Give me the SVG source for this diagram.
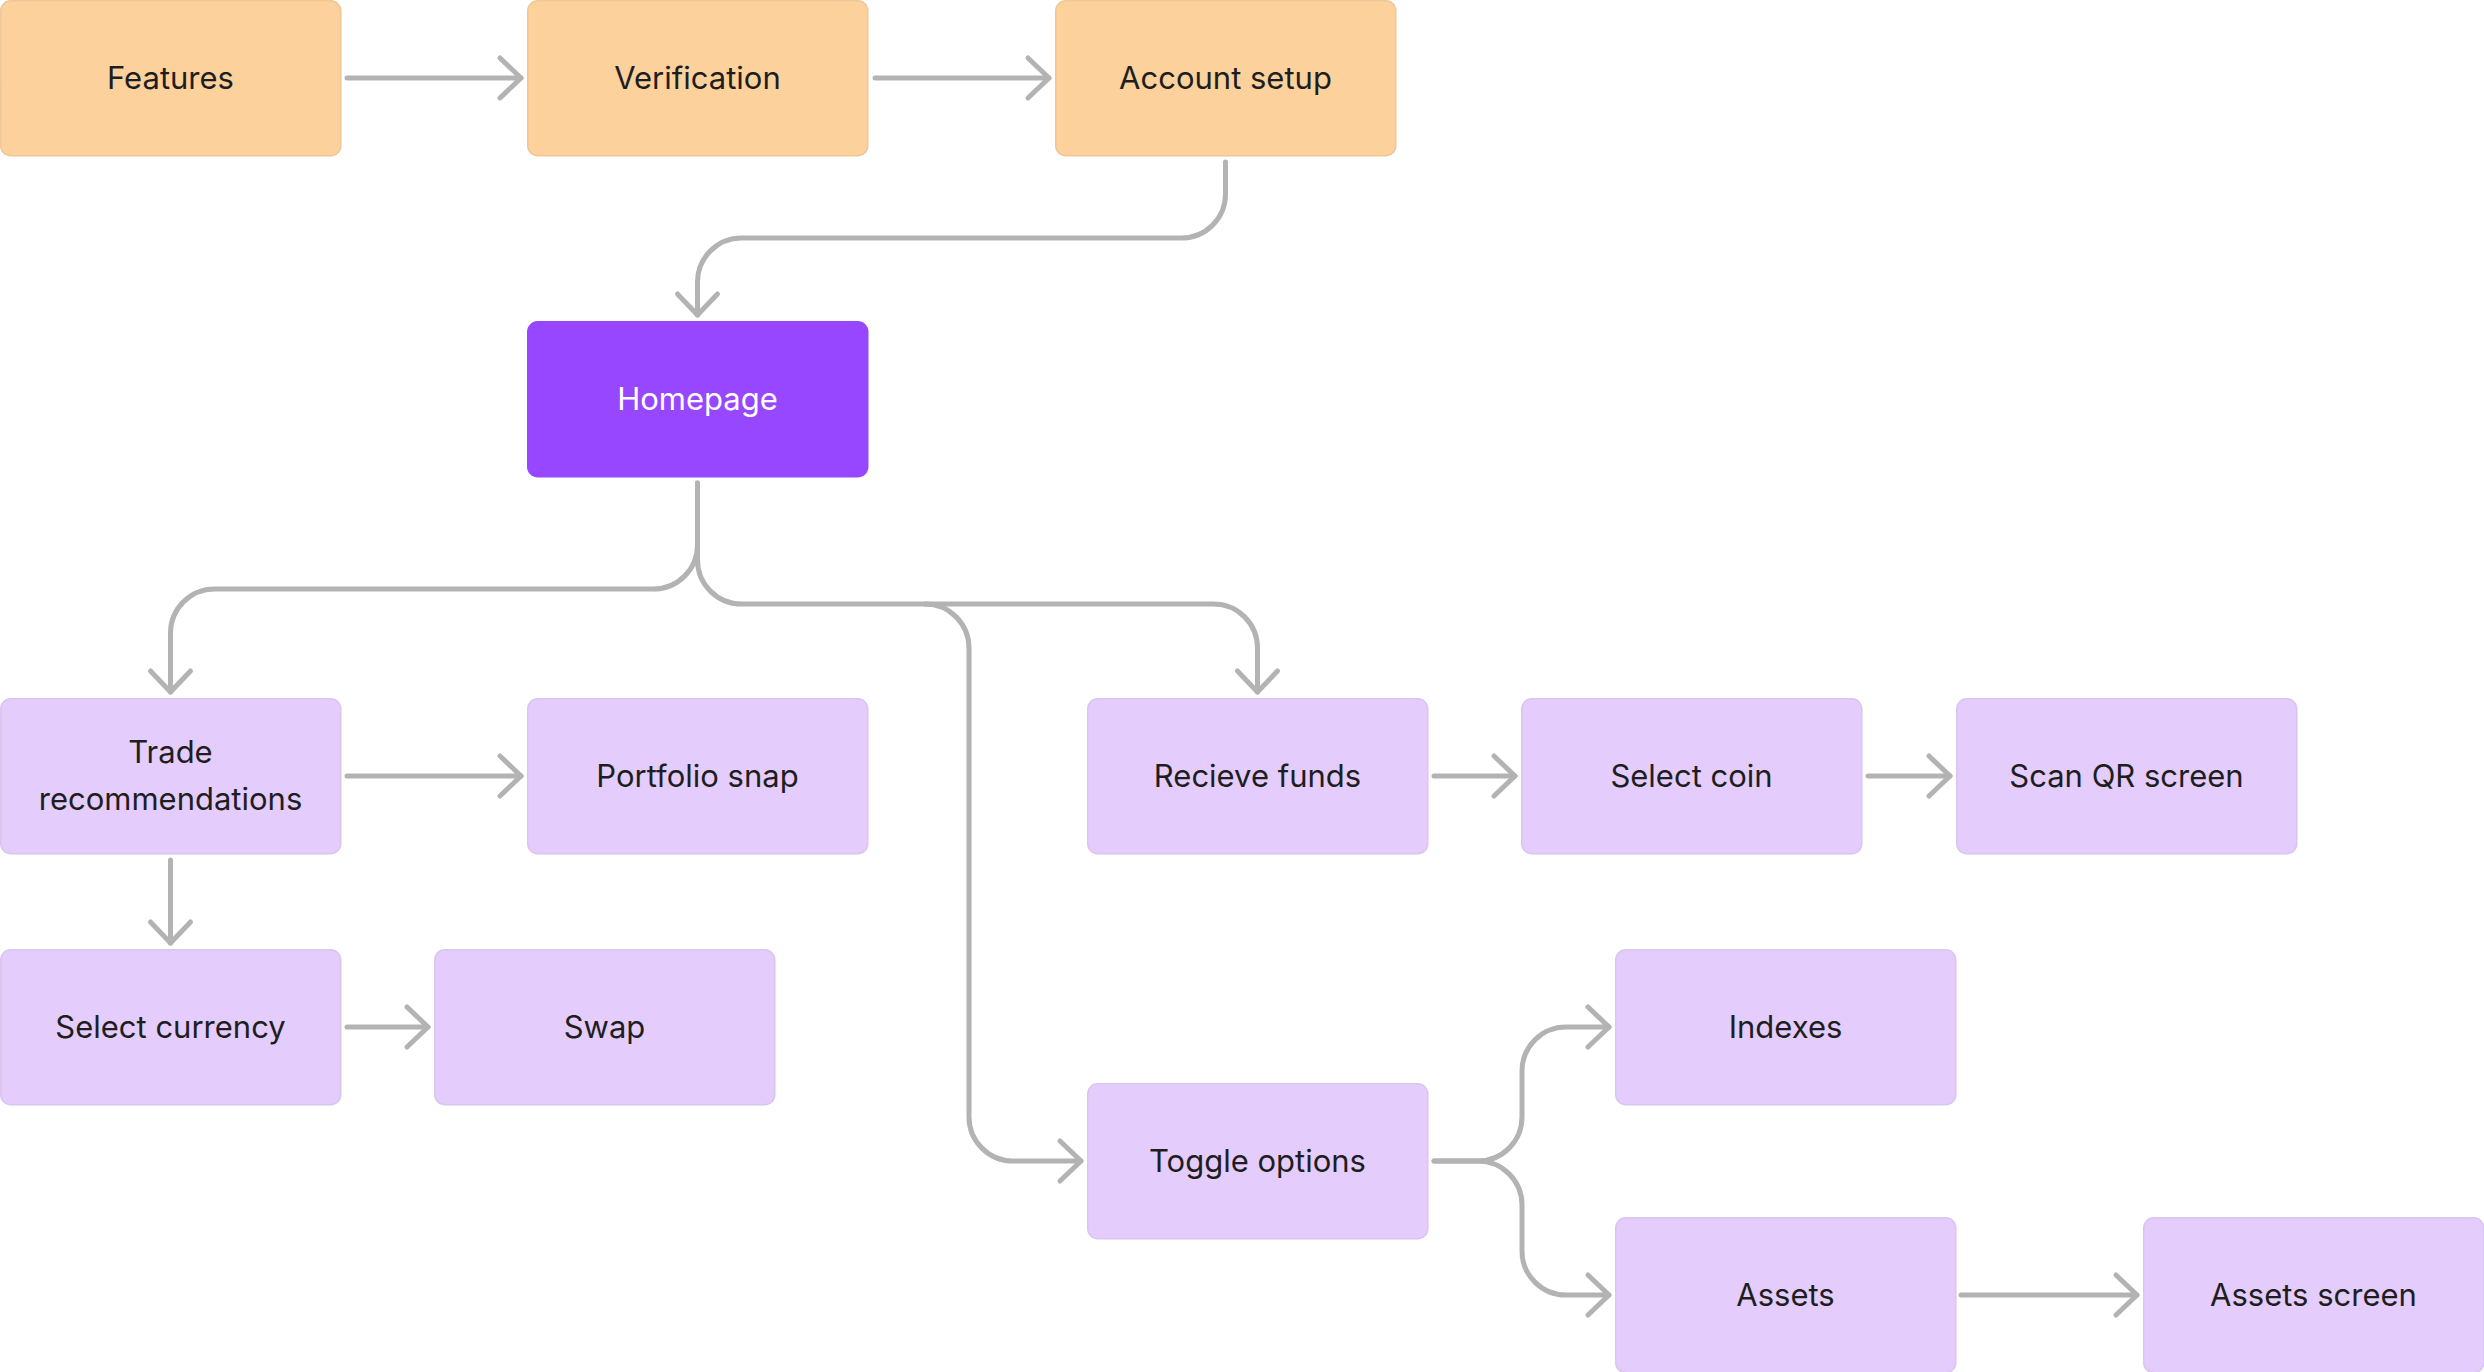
<svg xmlns="http://www.w3.org/2000/svg" width="2484" height="1372" viewBox="0 0 2484 1372">
<defs>
<style>
.o{fill:#FCD19C;stroke:#EDC795;stroke-width:1.5}
.p{fill:#E4CCFD;stroke:#D9C6EE;stroke-width:1.5}
.h{fill:#9747FF;stroke:#9747FF;stroke-width:1.5}
.t{font-family:Inter,"Noto Sans","Liberation Sans",sans-serif;font-size:31px;fill:#1E1E1E;text-anchor:middle}
.tw{fill:#FFFFFF}
.c{fill:none;stroke:#B3B3B3;stroke-width:5;stroke-linecap:round;stroke-linejoin:round}
</style>
<marker id="ah" markerUnits="userSpaceOnUse" viewBox="-30 -30 40 60" refX="0" refY="0" markerWidth="40" markerHeight="60" orient="auto" overflow="visible">
<path d="M-21 -20 L0 0 L-21 20" fill="none" stroke="#B3B3B3" stroke-width="5" stroke-linecap="round" stroke-linejoin="round"/>
</marker>
</defs>
<rect width="2484" height="1372" fill="#FFFFFF"/>
<g id="connectors">
<path class="c" marker-end="url(#ah)" d="M347 78 H521"/>
<path class="c" marker-end="url(#ah)" d="M875 78 H1049"/>
<path class="c" marker-end="url(#ah)" d="M1225.5 162 V194 A44 44 0 0 1 1181.5 238 H741.5 A44 44 0 0 0 697.5 282 V315"/>
<path class="c" marker-end="url(#ah)" d="M697.5 483 V545 A44 44 0 0 1 653.5 589 H214.5 A44 44 0 0 0 170.5 633 V692"/>
<path class="c" marker-end="url(#ah)" d="M697.5 483 V560 A44 44 0 0 0 741.5 604 H1213.5 A44 44 0 0 1 1257.5 648 V692"/>
<path class="c" marker-end="url(#ah)" d="M925 604 A44 44 0 0 1 969 648 V1117 A44 44 0 0 0 1013 1161 H1081"/>
<path class="c" marker-end="url(#ah)" d="M347 776 H521"/>
<path class="c" marker-end="url(#ah)" d="M170.5 860 V943"/>
<path class="c" marker-end="url(#ah)" d="M347 1027 H428"/>
<path class="c" marker-end="url(#ah)" d="M1434 776 H1515"/>
<path class="c" marker-end="url(#ah)" d="M1868 776 H1950"/>
<path class="c" marker-end="url(#ah)" d="M1434 1161 H1478 A44 44 0 0 0 1522 1117 V1071 A44 44 0 0 1 1566 1027 H1609"/>
<path class="c" marker-end="url(#ah)" d="M1434 1161 H1478 A44 44 0 0 1 1522 1205 V1251 A44 44 0 0 0 1566 1295 H1609"/>
<path class="c" marker-end="url(#ah)" d="M1961 1295 H2137"/>
</g>
<g id="features"><rect class="o" x="0.75" y="0.75" width="340" height="155" rx="10"/><text class="t" x="170.5" y="89">Features</text></g>
<g id="verification"><rect class="o" x="527.75" y="0.75" width="340" height="155" rx="10"/><text class="t" x="697.5" y="89">Verification</text></g>
<g id="account-setup"><rect class="o" x="1055.75" y="0.75" width="340" height="155" rx="10"/><text class="t" x="1225.5" y="89">Account setup</text></g>
<g id="homepage"><rect class="h" x="527.75" y="321.75" width="340" height="155" rx="10"/><text class="t tw" x="697.5" y="410">Homepage</text></g>
<g id="trade-recommendations"><rect class="p" x="0.75" y="698.75" width="340" height="155" rx="10"/><text class="t" x="170.5" y="763">Trade</text><text class="t" x="170.5" y="810">recommendations</text></g>
<g id="portfolio-snap"><rect class="p" x="527.75" y="698.75" width="340" height="155" rx="10"/><text class="t" x="697.5" y="787">Portfolio snap</text></g>
<g id="recieve-funds"><rect class="p" x="1087.75" y="698.75" width="340" height="155" rx="10"/><text class="t" x="1257.5" y="787">Recieve funds</text></g>
<g id="select-coin"><rect class="p" x="1521.75" y="698.75" width="340" height="155" rx="10"/><text class="t" x="1691.5" y="787">Select coin</text></g>
<g id="scan-qr-screen"><rect class="p" x="1956.75" y="698.75" width="340" height="155" rx="10"/><text class="t" x="2126.5" y="787">Scan QR screen</text></g>
<g id="select-currency"><rect class="p" x="0.75" y="949.75" width="340" height="155" rx="10"/><text class="t" x="170.5" y="1038">Select currency</text></g>
<g id="swap"><rect class="p" x="434.75" y="949.75" width="340" height="155" rx="10"/><text class="t" x="604.5" y="1038">Swap</text></g>
<g id="indexes"><rect class="p" x="1615.75" y="949.75" width="340" height="155" rx="10"/><text class="t" x="1785.5" y="1038">Indexes</text></g>
<g id="toggle-options"><rect class="p" x="1087.75" y="1083.75" width="340" height="155" rx="10"/><text class="t" x="1257.5" y="1172">Toggle options</text></g>
<g id="assets"><rect class="p" x="1615.75" y="1217.75" width="340" height="155" rx="10"/><text class="t" x="1785.5" y="1306">Assets</text></g>
<g id="assets-screen"><rect class="p" x="2143.75" y="1217.75" width="340" height="155" rx="10"/><text class="t" x="2313.5" y="1306">Assets screen</text></g>
</svg>
